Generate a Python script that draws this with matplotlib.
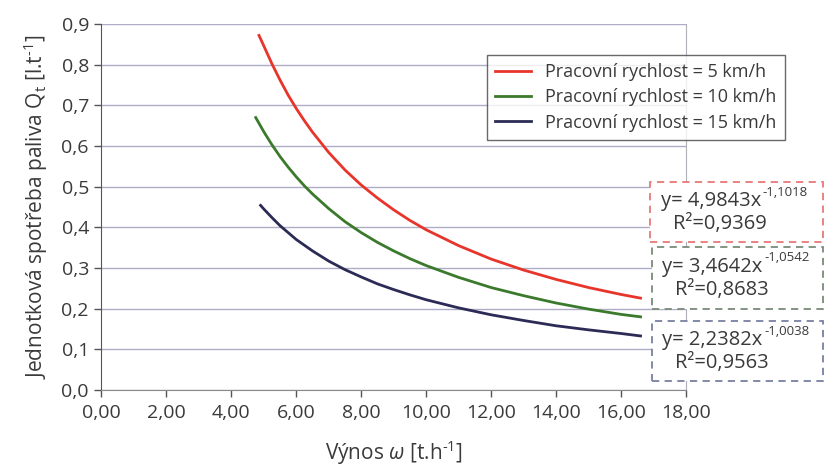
import matplotlib.pyplot as plt
import matplotlib as mpl
from matplotlib.patches import Rectangle
from matplotlib.text import Annotation

plt.rcParams['font.family'] = ['Open Sans', 'DejaVu Sans']
plt.rcParams['mathtext.fontset'] = 'custom'
plt.rcParams['mathtext.rm'] = 'Open Sans'
plt.rcParams['mathtext.it'] = 'Open Sans:italic'

### Data
x_5 = [4.85, 5.0, 5.25, 5.5, 5.75, 6.0, 6.25, 6.5, 7.0, 7.5, 8.0, 8.5, 9.0, 9.5, 10.0, 11.0, 12.0, 13.0, 14.0, 15.0, 16.0, 16.6]
y_5 = [0.872, 0.846, 0.802, 0.762, 0.725, 0.692, 0.662, 0.634, 0.584, 0.541, 0.504, 0.472, 0.443, 0.417, 0.394, 0.355, 0.322, 0.295, 0.272, 0.252, 0.235, 0.226]

x_10 = [4.75, 5.0, 5.25, 5.5, 5.75, 6.0, 6.25, 6.5, 7.0, 7.5, 8.0, 8.5, 9.0, 9.5, 10.0, 11.0, 12.0, 13.0, 14.0, 15.0, 16.0, 16.6]
y_10 = [0.670, 0.635, 0.603, 0.574, 0.548, 0.524, 0.502, 0.482, 0.446, 0.414, 0.387, 0.363, 0.342, 0.323, 0.306, 0.277, 0.252, 0.232, 0.214, 0.199, 0.186, 0.180]

x_15 = [4.9, 5.0, 5.25, 5.5, 5.75, 6.0, 6.25, 6.5, 7.0, 7.5, 8.0, 8.5, 9.0, 9.5, 10.0, 11.0, 12.0, 13.0, 14.0, 15.0, 16.0, 16.6]
y_15 = [0.454, 0.445, 0.424, 0.404, 0.387, 0.370, 0.356, 0.342, 0.317, 0.296, 0.278, 0.261, 0.247, 0.234, 0.222, 0.202, 0.185, 0.171, 0.158, 0.148, 0.139, 0.133]

labels = ['Pracovní rychlost = 5 km/h', 'Pracovní rychlost = 10 km/h', 'Pracovní rychlost = 15 km/h']
eq_base = ['y= 4,9843x', 'y= 3,4642x', 'y= 2,2382x']
eq_exp = ['-1,1018', '-1,0542', '-1,0038']
r2_text = ['R²=0,9369', 'R²=0,8683', 'R²=0,9563']

x_ticks = [0, 2, 4, 6, 8, 10, 12, 14, 16, 18]
x_tick_labels = ['0,00', '2,00', '4,00', '6,00', '8,00', '10,00', '12,00', '14,00', '16,00', '18,00']
y_ticks = [0.0, 0.1, 0.2, 0.3, 0.4, 0.5, 0.6, 0.7, 0.8, 0.9]
y_tick_labels = ['0,0', '0,1', '0,2', '0,3', '0,4', '0,5', '0,6', '0,7', '0,8', '0,9']

colors = ['#e8352b', '#3b7a2c', '#2b2b55']
box_colors = ['#e87878', '#7a8a78', '#7880a0']
txt = '#3a3a3a'

### Figure
fig = plt.figure(figsize=(8.29, 4.66), dpi=100)
ax = fig.add_axes([0.1224, 0.163, 0.7051, 0.7855])

for xs, ys, c, lab in zip([x_5, x_10, x_15], [y_5, y_10, y_15], colors, labels):
    ax.plot(xs, ys, color=c, linewidth=2, label=lab, zorder=3, solid_joinstyle='round')

ax.set_xlim(0, 18)
ax.set_ylim(0, 0.9)
ax.set_xticks(x_ticks)
ax.set_xticklabels(x_tick_labels)
ax.set_yticks(y_ticks)
ax.set_yticklabels(y_tick_labels)
ax.tick_params(axis='both', labelsize=14, colors='#555555', labelcolor=txt, length=5, width=1)
ax.tick_params(axis='x', pad=5)
ax.tick_params(axis='y', pad=4)

ax.grid(axis='y', color='#aeacc6', linewidth=1)
ax.set_axisbelow(True)
ax.spines['top'].set_visible(False)
ax.spines['right'].set_color('#b0b0b8')
ax.spines['left'].set_color('#555555')
ax.spines['bottom'].set_color('#8a8a8a')

ax.set_xlabel('Výnos $\\mathit{ω}$ [t.h$^{\\text{-1}}$]', fontsize=15, color=txt, labelpad=12)
ax.set_ylabel('Jednotková spotřeba paliva Q$_{\\text{t}}$ [l.t$^{\\text{-1}}$]', fontsize=15, color=txt, labelpad=8)

leg = ax.legend(loc='upper left', bbox_to_anchor=(0.587, 0.882), bbox_transform=fig.transFigure,
                borderaxespad=0, fancybox=False, edgecolor='#444444', fontsize=13,
                handlelength=2.0, labelspacing=0.4, borderpad=0.45, handletextpad=0.8)
leg.get_frame().set_linewidth(1.0)
for t in leg.get_texts():
    t.set_color(txt)

# equation boxes, figure coords
boxes = [(0.784, 0.4807, 0.2087, 0.1288), (0.786, 0.3369, 0.2065, 0.1330), (0.786, 0.1824, 0.2065, 0.1288)]
for (bx, by, bw, bh), bc, eb, ee, r2 in zip(boxes, box_colors, eq_base, eq_exp, r2_text):
    rect = Rectangle((bx, by), bw, bh, transform=fig.transFigure, facecolor='white',
                     edgecolor=bc, linestyle=(0, (4, 3)), linewidth=1.3, zorder=5)
    fig.patches.append(rect)
    t1 = fig.text(bx + 0.013, by + bh * 0.68, eb, fontsize=14.5, color=txt, va='center', ha='left', zorder=6)
    fig.text(bx + 0.028, by + bh * 0.30, r2, fontsize=14.5, color=txt, va='center', ha='left', zorder=6)
    sup = Annotation(ee, xy=(1, 0.62), xycoords=t1, xytext=(1, 0), textcoords='offset points',
                     fontsize=9.5, color=txt, va='bottom', ha='left', annotation_clip=False)
    sup.set_zorder(7)
    fig.add_artist(sup)

fig.savefig('out.png', dpi=100)
